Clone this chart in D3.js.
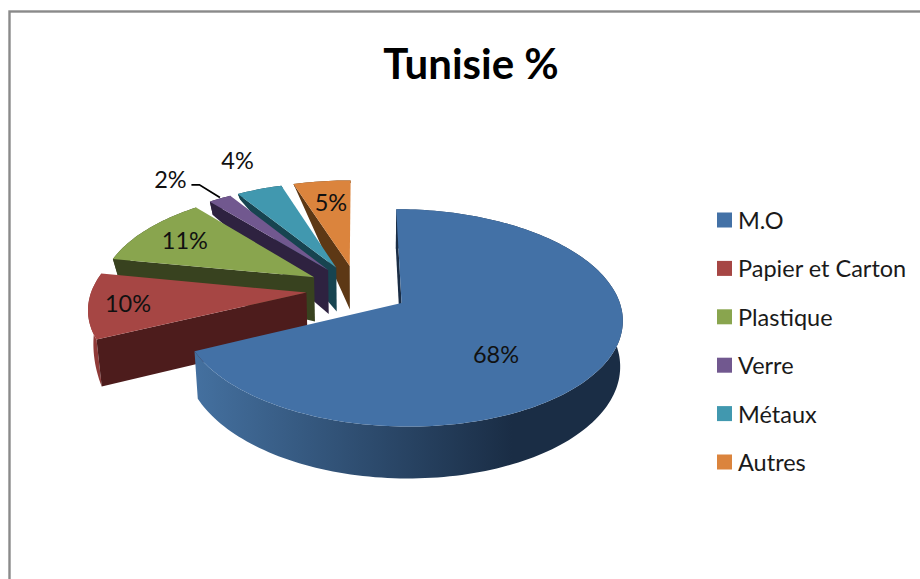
<!DOCTYPE html>
<html lang="fr">
<head>
    <meta charset="UTF-8">
    <title>Tunisie %</title>
    <script src="https://d3js.org/d3.v7.min.js"></script>
    <style>
        html, body { margin: 0; padding: 0; background: #fff; overflow: hidden; }
        svg { display: block; font-family: Lato, sans-serif; }
        .label { font-size: 23.5px; fill: #111; text-anchor: middle; dominant-baseline: central; }
        .legend_text { font-size: 23.5px; fill: #1a1a1a; dominant-baseline: central; }
    </style>
</head>
<body>
<svg width="920" height="579" viewBox="0 0 920 579"></svg>

<script>
    const title = "Tunisie %";
    const categories = ["M.O", "Papier et Carton", "Plastique", "Verre", "Métaux", "Autres"];
    const values = [68, 10, 11, 2, 4, 5];
    const labels = ["68%", "10%", "11%", "2%", "4%", "5%"];

    const topColors = ["#4371a6", "#a64644", "#89a54e", "#71588f", "#4198af", "#db843d"];
    const cutColors = ["#1a2d45", "#4d1c1c", "#38421f", "#2e2240", "#174450", "#5d3815"];
    const rimColors = ["url(#blueRim)", "#8f3a38", "#38421f", "#2e2240", "#174450", "#5d3815"];

    // where each label sits: distance along the radius, and position across the slice
    const labelRadius = [0.6, 0.82, 0.76, 1.38, 1.42, 0.73];
    const labelFrac = [0.568, 0.5, 0.5, 0, 0.6, 0.55];

    const svg = d3.select("svg");

    // projection of the tilted pie
    const explode = 0.239, persp = 0.135;
    const xs = d3.scaleLinear().domain([0, 1]).range([357.5, 572]);
    const ys = d3.scaleLinear().domain([0, 1]).range([289.5, 392.5]);

    // wall height in px, depends on the angle of the rim (picture tapers towards the back)
    const wallH = d3.scaleLinear()
        .domain([0, 245, 281, 321, 328, 342, 360])
        .range([44, 44, 17, 15, 6, 3, 3]);
    const apexH = 45;

    function project(X, Z) {
        const s = 1 / (1 - persp * Z);
        return [xs(X * s), ys(Z * s), s];
    }

    const pie = d3.pie().sort(null).value(d => d);
    const arcs = pie(values);
    const line = d3.line();

    function slicePoint(d, r, a) {
        const mid = (d.startAngle + d.endAngle) / 2;
        return project(explode * Math.sin(mid) + r * Math.sin(a),
                       -explode * Math.cos(mid) - r * Math.cos(a));
    }

    function lower(p, h) {
        const inset = p[0] < xs(0) ? 0.98 : 0.99;
        return [xs(0) + (p[0] - xs(0)) * inset, p[1] + h * p[2]];
    }

    function rimAngles(d) {
        const n = Math.max(6, Math.ceil((d.endAngle - d.startAngle) * 40));
        return d3.range(n + 1).map(i => d.startAngle + (d.endAngle - d.startAngle) * i / n);
    }

    const deg = a => a * 180 / Math.PI;

    const defs = svg.append("defs");
    const grad = defs.append("linearGradient").attr("id", "blueRim")
        .attr("gradientUnits", "userSpaceOnUse")
        .attr("x1", xs(-0.75)).attr("x2", xs(0.72)).attr("y1", 0).attr("y2", 0);
    grad.append("stop").attr("offset", 0).attr("stop-color", "#44709f");
    grad.append("stop").attr("offset", 1).attr("stop-color", "#1a2d45");

    // chart frame, right and bottom sides fall outside the picture
    svg.append("rect").attr("x", 9.5).attr("y", 11.5).attr("width", 1000).attr("height", 1000)
        .attr("fill", "#fff").attr("stroke", "#8a8a8a").attr("stroke-width", 2.4);

    svg.append("text").attr("x", 471).attr("y", 63)
        .attr("text-anchor", "middle").attr("dominant-baseline", "central")
        .attr("font-size", 42).attr("font-weight", 700).attr("fill", "#000")
        .text(title);

    // back to front: Autres first, M.O last
    const slices = svg.append("g").selectAll("g")
        .data(arcs.slice().reverse())
        .enter().append("g");

    slices.append("path")
        .attr("fill", d => rimColors[d.index])
        .attr("d", d => {
            const as = rimAngles(d);
            const top = as.map(a => slicePoint(d, 1, a));
            const bottom = as.map((a, i) => lower(top[i], wallH(deg(a))));
            return line(top.concat(bottom.reverse()).map(p => [p[0], p[1]])) + "Z";
        });

    slices.append("path")
        .attr("fill", d => cutColors[d.index])
        .attr("d", d => {
            const apex = slicePoint(d, 0, 0);
            const tip = slicePoint(d, 1, d.startAngle);
            return line([apex, tip, lower(tip, wallH(deg(d.startAngle))), lower(apex, apexH)]
                .map(p => [p[0], p[1]])) + "Z";
        });

    slices.append("path")
        .attr("fill", d => topColors[d.index])
        .attr("d", d => {
            const pts = rimAngles(d).map(a => slicePoint(d, 1, a));
            return line([slicePoint(d, 0, 0)].concat(pts).map(p => [p[0], p[1]])) + "Z";
        });

    // data labels
    const labelPos = arcs.map((d, i) => slicePoint(d, labelRadius[i],
        d.startAngle + (d.endAngle - d.startAngle) * labelFrac[i]));

    svg.append("g").selectAll("text")
        .data(arcs)
        .enter().append("text")
        .attr("class", "label")
        .attr("x", (d, i) => labelPos[i][0])
        .attr("y", (d, i) => labelPos[i][1])
        .text((d, i) => labels[i]);

    // leader line of the 2% label
    const verre = arcs[3];
    const leaderEnd = slicePoint(verre, 1.0, (verre.startAngle + verre.endAngle) / 2);
    svg.append("path")
        .attr("fill", "none").attr("stroke", "#000").attr("stroke-width", 1.8)
        .attr("d", line([
            [labelPos[3][0] + 21, labelPos[3][1] + 6],
            [labelPos[3][0] + 29, labelPos[3][1] + 6],
            [leaderEnd[0], leaderEnd[1] - 1]
        ]));

    // legend
    const row = d3.scaleLinear().domain([0, categories.length - 1]).range([220, 462]);
    const legend = svg.append("g").selectAll("g")
        .data(categories)
        .enter().append("g")
        .attr("transform", (d, i) => `translate(717,${row(i)})`);

    legend.append("rect")
        .attr("x", 0).attr("y", -7.5).attr("width", 15).attr("height", 15)
        .attr("fill", (d, i) => topColors[i]);

    legend.append("text")
        .attr("class", "legend_text")
        .attr("x", 21).attr("y", 0)
        .text(d => d);
</script>
</body>
</html>
